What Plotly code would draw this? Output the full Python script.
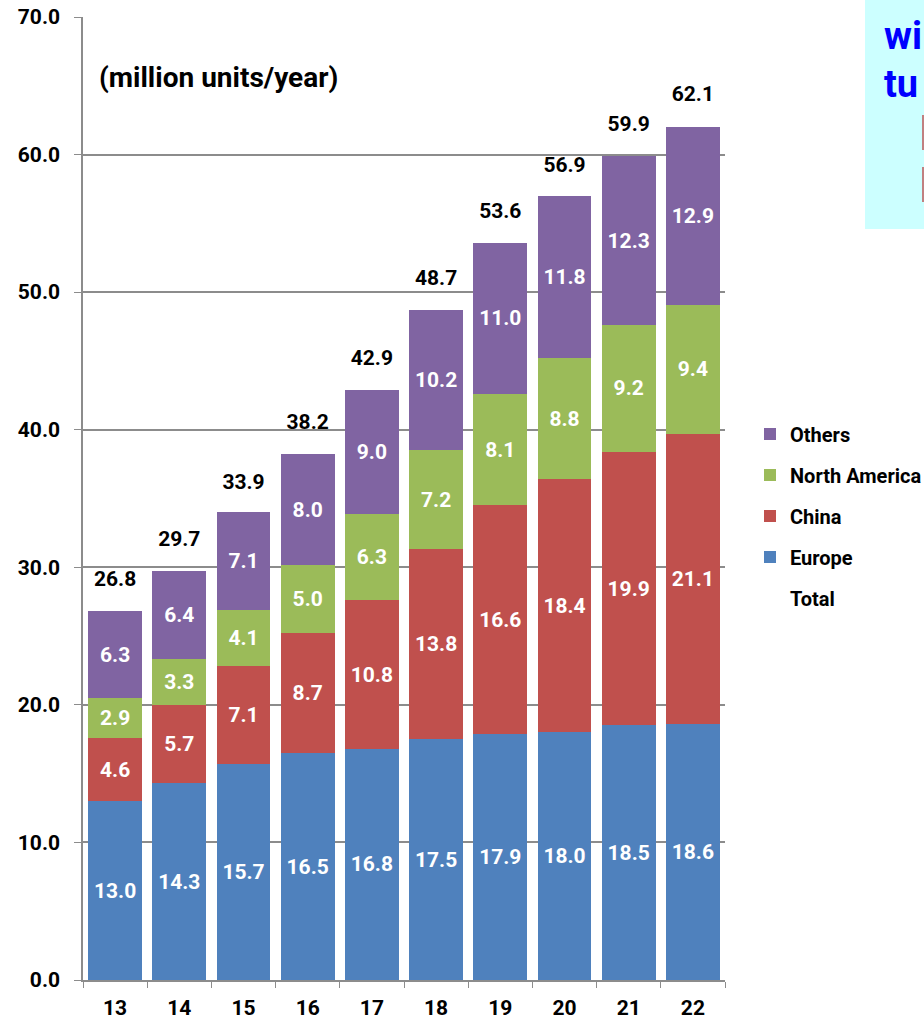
import plotly.graph_objects as go

years = ["13", "14", "15", "16", "17", "18", "19", "20", "21", "22"]
europe = [13.0, 14.3, 15.7, 16.5, 16.8, 17.5, 17.9, 18.0, 18.5, 18.6]
china = [4.6, 5.7, 7.1, 8.7, 10.8, 13.8, 16.6, 18.4, 19.9, 21.1]
north_america = [2.9, 3.3, 4.1, 5.0, 6.3, 7.2, 8.1, 8.8, 9.2, 9.4]
others = [6.3, 6.4, 7.1, 8.0, 9.0, 10.2, 11.0, 11.8, 12.3, 12.9]
total = [26.8, 29.7, 33.9, 38.2, 42.9, 48.7, 53.6, 56.9, 59.9, 62.1]

FONT = "Roboto, Arial, sans-serif"

L, R, T, B = 83, 725, 17, 980
PW, PH = R - L, B - T


def px(x):
    return (x - L) / PW


def py(y):
    return (B - y) / PH


fig = go.Figure()

series = [
    ("Europe", europe, "#4F81BD", 4),
    ("China", china, "#C0504D", 3),
    ("North America", north_america, "#9BBB59", 2),
    ("Others", others, "#8064A2", 1),
]
for name, vals, col, rank in series:
    fig.add_trace(go.Bar(
        x=years, y=vals, name=name, marker=dict(color=col, line=dict(width=0)),
        text=[f"{v:.1f}" for v in vals], textposition="inside",
        insidetextanchor="middle", textangle=0,
        textfont=dict(family=FONT, size=21, color="white", weight="bold"),
        legendgroup=name, legendrank=rank,
    ))

fig.add_trace(go.Scatter(
    x=years, y=total, name="Total", mode="markers+text",
    marker=dict(size=30, color="rgba(0,0,0,0)"),
    text=[f"{v:.1f}" for v in total], textposition="top center",
    textfont=dict(family=FONT, size=21, color="black", weight="bold"),
    legendgroup="t", legendrank=5, hoverinfo="skip",
))

fig.update_layout(
    width=924, height=1021,
    margin=dict(l=L, r=924 - R, t=T, b=1021 - B, autoexpand=False),
    barmode="stack", bargap=0.16,
    plot_bgcolor="white", paper_bgcolor="white",
    font=dict(family=FONT, size=21, color="black", weight="bold"),
    uniformtext=dict(minsize=10, mode="show"),
    legend=dict(
        x=px(750), xanchor="left", y=py(516), yanchor="middle",
        traceorder="grouped", tracegroupgap=12,
        font=dict(family=FONT, size=20, color="black", weight="bold"),
        itemwidth=30,
    ),
    showlegend=True,
)

fig.update_yaxes(
    range=[0, 70], dtick=10, tickformat=".1f",
    showgrid=True, gridcolor="#8c8c8c", gridwidth=1.5,
    showline=True, linecolor="#8c8c8c", linewidth=1.5,
    ticks="outside", ticklen=7, tickcolor="#8c8c8c",
    ticklabelstandoff=10,
    tickfont=dict(family=FONT, size=21, color="black", weight="bold"),
    zeroline=False, automargin=False,
)
fig.update_xaxes(
    range=[-0.5, 9.5],
    showline=True, linecolor="#8c8c8c", linewidth=1.5,
    ticks="outside", ticklen=6, tickcolor="#8c8c8c", tickson="boundaries",
    ticklabelstandoff=8,
    tickfont=dict(family=FONT, size=21, color="black", weight="bold"),
    automargin=False,
)

fig.add_annotation(
    text="(million units/year)", xref="paper", yref="paper",
    x=px(97), y=py(78), xanchor="left", yanchor="middle",
    showarrow=False,
    font=dict(family=FONT, size=28, color="black", weight="bold"),
)

# cropped text box at top right
fig.add_shape(
    type="rect", xref="paper", yref="paper",
    x0=px(865), x1=px(930), y0=py(229), y1=py(-5),
    fillcolor="#CCFFFF", line=dict(width=0), layer="below",
)
fig.add_annotation(
    text="wi", xref="paper", yref="paper",
    x=px(882), y=py(36), xanchor="left", yanchor="middle",
    showarrow=False,
    font=dict(family=FONT, size=38, color="#0000FF", weight="bold"),
)
fig.add_annotation(
    text="tu", xref="paper", yref="paper",
    x=px(882), y=py(84), xanchor="left", yanchor="middle",
    showarrow=False,
    font=dict(family=FONT, size=38, color="#0000FF", weight="bold"),
)
for y0, y1 in [(115, 150), (167, 202)]:
    fig.add_shape(
        type="rect", xref="paper", yref="paper",
        x0=px(922), x1=px(924), y0=py(y1), y1=py(y0),
        fillcolor="#C08080", line=dict(width=0),
    )

fig.write_html("out.html")
